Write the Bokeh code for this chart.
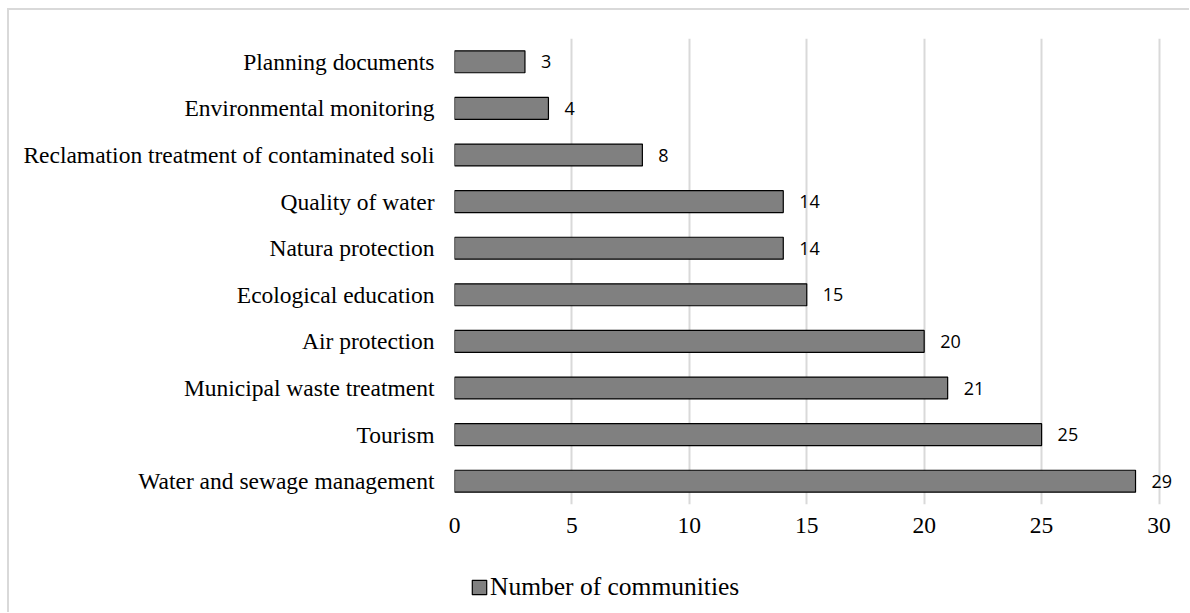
from bokeh.plotting import figure
from bokeh.models import ColumnDataSource, Legend, LegendItem, FactorRange, LabelSet
from bokeh.layouts import column
from bokeh.embed import file_html
from bokeh.resources import INLINE
from bokeh.core.properties import value

categories = [
    "Water and sewage management",
    "Tourism",
    "Municipal waste treatment",
    "Air protection",
    "Ecological education",
    "Natura protection",
    "Quality of water",
    "Reclamation treatment of contaminated soli",
    "Environmental monitoring",
    "Planning documents",
]
counts = [29, 25, 21, 20, 15, 14, 14, 8, 4, 3]
x_ticks = [0, 5, 10, 15, 20, 25, 30]
series_name = "Number of communities"

BAR_FILL = "#808080"
BAR_LINE = "black"
serif = "Liberation Serif"

source = ColumnDataSource(dict(cat=categories, val=counts, lab=[str(v) for v in counts]))

p = figure(
    width=1180, height=545,
    y_range=FactorRange(factors=categories, range_padding=0),
    x_range=(0, 31),
    output_backend="svg", toolbar_location=None,
    min_border_left=445, min_border_right=7, min_border_top=28, min_border_bottom=51,
)
p.outline_line_color = None
p.background_fill_color = "white"
p.border_fill_color = "white"

p.hbar(y="cat", right="val", left=0, height=0.47, source=source,
       fill_color=BAR_FILL, line_color=BAR_LINE, line_width=1.2)

labels = LabelSet(x="val", y="cat", text="lab", source=source, x_offset=16,
                  text_align="left", text_baseline="middle",
                  text_font=value("Open Sans"), text_font_size="18px", text_color="black")
p.add_layout(labels)

p.xaxis.ticker = x_ticks
p.xaxis.axis_line_color = None
p.xaxis.major_tick_line_color = None
p.xaxis.minor_tick_line_color = None
p.xaxis.major_tick_out = 0
p.xaxis.major_label_standoff = 13
p.xaxis.major_label_text_font = serif
p.xaxis.major_label_text_font_size = "23.5px"
p.xaxis.major_label_text_color = "black"

p.yaxis.axis_line_color = None
p.yaxis.major_tick_line_color = None
p.yaxis.major_tick_out = 0
p.yaxis.major_label_standoff = 20
p.yaxis.major_label_text_font = serif
p.yaxis.major_label_text_font_size = "23.5px"
p.yaxis.major_label_text_color = "black"

p.ygrid.grid_line_color = None
p.xgrid.grid_line_color = "#d9d9d9"
p.xgrid.grid_line_width = 2

# legend strip below the chart (hidden proxy renderer; only its legend entry is shown)
lg = figure(width=1180, height=57, x_range=(0, 31),
            y_range=FactorRange(factors=categories),
            output_backend="svg", toolbar_location=None,
            x_axis_location=None, y_axis_location=None,
            min_border_left=445, min_border_right=7, min_border_top=1, min_border_bottom=0)
lg.outline_line_color = None
lg.grid.visible = False
lg.border_fill_color = "white"
lg.background_fill_color = "white"
lr = lg.hbar(y="cat", right="val", left=0, height=0.47, source=source,
             fill_color=BAR_FILL, line_color=BAR_LINE, line_width=1.2)
lr.visible = False
legend = Legend(items=[LegendItem(label=series_name, renderers=[lr])],
                location="top_left", orientation="horizontal",
                border_line_color=None, background_fill_alpha=0,
                inactive_fill_alpha=0,
                padding=0, margin=16, glyph_width=18, glyph_height=18,
                label_standoff=2, label_text_font=serif,
                label_text_font_size="25.5px", label_text_color="black")
lg.add_layout(legend, "center")

layout = column(p, lg, spacing=0,
                styles={"margin-left": "7px", "margin-top": "8px",
                        "border-left": "2px solid #d9d9d9", "border-top": "2px solid #d9d9d9"})

open("out.html", "w").write(file_html(layout, INLINE))
